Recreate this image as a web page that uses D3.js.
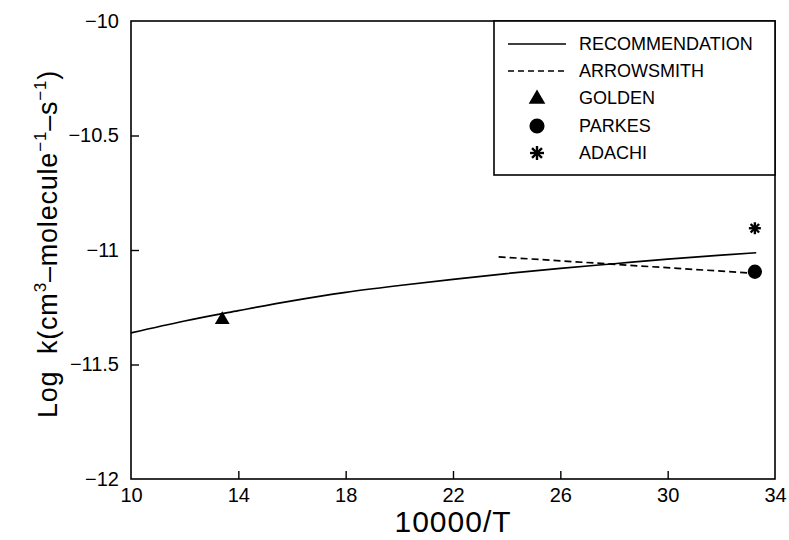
<!DOCTYPE html>
<html>
<head>
<meta charset="utf-8">
<script src="https://cdn.jsdelivr.net/npm/d3@7"></script>
<style>
  body { margin: 0; background: #fff; }
  text { font-family: "Liberation Sans", Arial, sans-serif; fill: #000; }
</style>
</head>
<body>
<svg id="chart" width="789" height="540"></svg>
<script>
// recommended rate expression
var recX = [10, 12, 14, 16, 18, 20, 22, 24, 26, 28, 30, 32, 33.3];
var recY = [-11.362, -11.31, -11.265, -11.222, -11.185, -11.155, -11.128, -11.103, -11.08, -11.06, -11.04, -11.022, -11.012];

// Arrowsmith line (two end points)
var arrX = [23.7, 33.0];
var arrY = [-11.03, -11.10];

// single measurements
var goldenPt = [13.4, -11.30];
var parkesPt = [33.25, -11.095];
var adachiPt = [33.25, -10.905];

var xTicks = [10, 14, 18, 22, 26, 30, 34];
var yTicks = [-10, -10.5, -11, -11.5, -12];

var legendLabels = ["RECOMMENDATION", "ARROWSMITH", "GOLDEN", "PARKES", "ADACHI"];

var svg = d3.select("#chart");
// plot box (note: "top" is a reserved window property, so use other names)
var pLeft = 131, pRight = 775, pTop = 21, pBottom = 479;

var x = d3.scaleLinear().domain([10, 34]).range([pLeft, pRight]);
var y = d3.scaleLinear().domain([-12, -10]).range([pBottom, pTop]);

function fmt(v) { return String(v).replace("-", "\u2212"); }

// frame
svg.append("rect")
    .attr("x", pLeft).attr("y", pTop)
    .attr("width", pRight - pLeft).attr("height", pBottom - pTop)
    .attr("fill", "none").attr("stroke", "#000").attr("stroke-width", 1.6);

// x axis ticks (inward)
var xAxis = svg.append("g")
    .attr("transform", "translate(0," + pBottom + ")")
    .call(d3.axisBottom(x).tickValues(xTicks).tickSize(-8).tickPadding(17).tickFormat(fmt));
xAxis.select(".domain").remove();
xAxis.selectAll("line").attr("stroke-width", 1.4).filter(function(d) { return d === 10 || d === 34; }).remove();
xAxis.selectAll("text").attr("font-size", 20).attr("dy", "0.3em");

// y axis ticks (inward)
var yAxis = svg.append("g")
    .attr("transform", "translate(" + pLeft + ",0)")
    .call(d3.axisLeft(y).tickValues(yTicks).tickSize(-8).tickPadding(12).tickFormat(fmt));
yAxis.select(".domain").remove();
yAxis.selectAll("line").attr("stroke-width", 1.4).filter(function(d) { return d === -10 || d === -12; }).remove();
yAxis.selectAll("text").attr("font-size", 20);

// axis titles
svg.append("text")
    .attr("x", (pLeft + pRight) / 2).attr("y", 532)
    .attr("text-anchor", "middle").attr("font-size", 30).attr("letter-spacing", 1)
    .text("10000/T");

var yt = svg.append("text")
    .attr("transform", "translate(57," + ((pTop + pBottom) / 2 - 6) + ") rotate(-90)")
    .attr("text-anchor", "middle").attr("font-size", 27).attr("letter-spacing", 0.8);
yt.append("tspan").text("Log\u00a0\u00a0k(cm");
yt.append("tspan").attr("dy", -11).attr("font-size", 17).text("3");
yt.append("tspan").attr("dy", 11).text("\u2013molecule");
yt.append("tspan").attr("dy", -11).attr("font-size", 17).text("\u22121");
yt.append("tspan").attr("dy", 11).text("\u2013s");
yt.append("tspan").attr("dy", -11).attr("font-size", 17).text("\u22121");
yt.append("tspan").attr("dy", 11).text(")");

// lines
var line = d3.line()
    .x(function(d) { return x(d[0]); })
    .y(function(d) { return y(d[1]); })
    .curve(d3.curveMonotoneX);

svg.append("path")
    .datum(d3.zip(recX, recY))
    .attr("d", line)
    .attr("fill", "none").attr("stroke", "#000").attr("stroke-width", 1.7);

svg.append("path")
    .datum(d3.zip(arrX, arrY))
    .attr("d", line)
    .attr("fill", "none").attr("stroke", "#000").attr("stroke-width", 1.7)
    .attr("stroke-dasharray", "7,4");

// markers
var tri = d3.symbol().type(d3.symbolTriangle).size(95);
var circ = d3.symbol().type(d3.symbolCircle).size(160);

function star(g, cx, cy, r) {
  for (var i = 0; i < 4; i++) {
    var a = i * Math.PI / 4;
    g.append("line")
        .attr("x1", cx - r * Math.cos(a)).attr("y1", cy - r * Math.sin(a))
        .attr("x2", cx + r * Math.cos(a)).attr("y2", cy + r * Math.sin(a))
        .attr("stroke", "#000").attr("stroke-width", 2.4);
  }
}

svg.append("path")
    .attr("d", tri)
    .attr("transform", "translate(" + x(goldenPt[0]) + "," + (y(goldenPt[1]) + 1) + ")");
svg.append("path")
    .attr("d", circ)
    .attr("transform", "translate(" + x(parkesPt[0]) + "," + y(parkesPt[1]) + ")");
star(svg.append("g"), x(adachiPt[0]), y(adachiPt[1]), 6);

// legend
var lg = svg.append("g");
lg.append("rect")
    .attr("x", 494).attr("y", pTop)
    .attr("width", pRight - 494).attr("height", 175 - pTop)
    .attr("fill", "#fff").attr("stroke", "#000").attr("stroke-width", 1.6);

var rowY = [44, 71, 98, 126, 153];
legendLabels.forEach(function(lbl, i) {
  lg.append("text")
      .attr("x", 579).attr("y", rowY[i]).attr("dy", "0.36em")
      .attr("font-size", 18).text(lbl);
});
lg.append("line").attr("x1", 508).attr("x2", 566).attr("y1", rowY[0]).attr("y2", rowY[0])
    .attr("stroke", "#000").attr("stroke-width", 1.4);
lg.append("line").attr("x1", 508).attr("x2", 566).attr("y1", rowY[1]).attr("y2", rowY[1])
    .attr("stroke", "#000").attr("stroke-width", 1.4).attr("stroke-dasharray", "6,4");
lg.append("path").attr("d", d3.symbol().type(d3.symbolTriangle).size(120))
    .attr("transform", "translate(537," + (rowY[2] + 1) + ")");
lg.append("path").attr("d", d3.symbol().type(d3.symbolCircle).size(180))
    .attr("transform", "translate(537," + rowY[3] + ")");
star(lg, 537, rowY[4], 7);
</script>
</body>
</html>
